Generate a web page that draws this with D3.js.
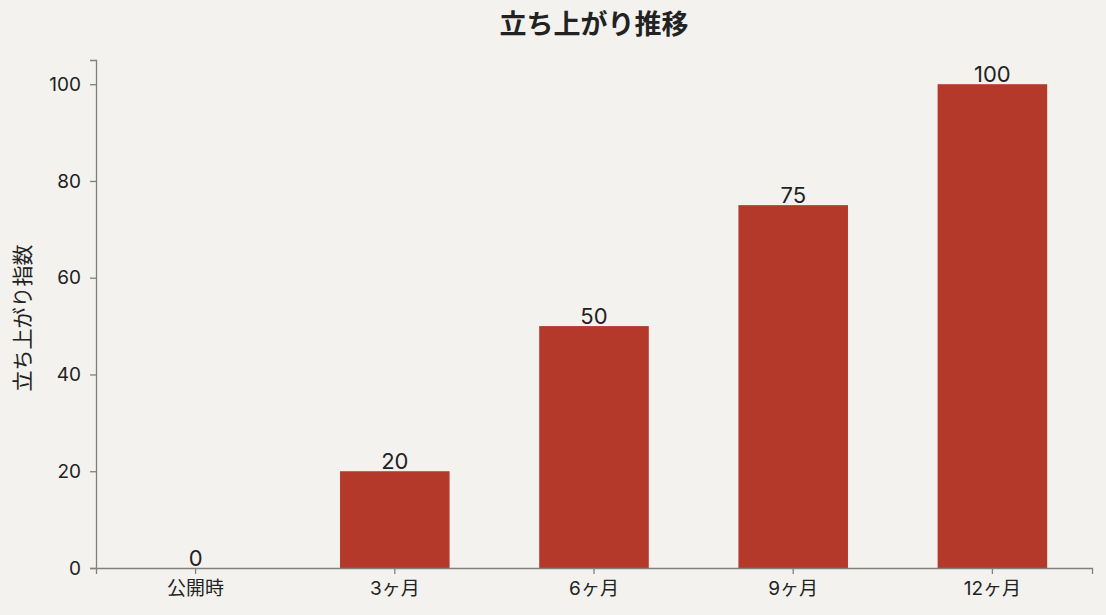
<!DOCTYPE html>
<html lang="ja">
<head>
<meta charset="UTF-8">
<script src="https://d3js.org/d3.v7.min.js"></script>
<style>
  body { margin: 0; background: #f3f2ee; }
  svg { display: block; font-family: "Inter", "Noto Sans CJK JP", sans-serif; }
  .axis path, .axis line { stroke: #808080; stroke-width: 1.3; }
  .axis text { fill: #222; }
</style>
</head>
<body>
<svg width="1106" height="615"></svg>
<script>
  const categories = ["公開時", "3ヶ月", "6ヶ月", "9ヶ月", "12ヶ月"]
  const values = [0, 20, 50, 75, 100]
  const yTicks = [0, 20, 40, 60, 80, 100]

  const svg = d3.select("svg")
  const margin = { top: 60, right: 14, bottom: 47, left: 96 }
  const W = 1106, H = 615
  const fontFam = '"Inter", "Noto Sans CJK JP", sans-serif'

  const x = d3.scaleBand().domain(categories)
    .range([margin.left, W - margin.right])
    .paddingInner(0.45).paddingOuter(0.225)
  const y = d3.scaleLinear().domain([0, 105]).range([H - margin.bottom, margin.top])

  // bars
  svg.selectAll("rect.bar").data(values).enter().append("rect")
    .attr("class", "bar")
    .attr("x", (d, i) => x(categories[i]))
    .attr("width", x.bandwidth())
    .attr("y", d => y(d))
    .attr("height", d => y(0) - y(d))
    .attr("fill", "#b5392b")

  // value labels
  svg.selectAll("text.val").data(values).enter().append("text")
    .attr("class", "val")
    .attr("x", (d, i) => x(categories[i]) + x.bandwidth() / 2)
    .attr("y", d => y(d) - 2)
    .attr("text-anchor", "middle")
    .attr("font-size", 22)
    .attr("fill", "#222")
    .text(d => d)

  // axes
  const gx = svg.append("g").attr("class", "axis")
    .attr("transform", `translate(0,${y(0)})`)
    .call(d3.axisBottom(x).tickSizeOuter(0).tickSize(6).tickPadding(8))
    .attr("font-family", fontFam).attr("font-size", 19)
  gx.selectAll(".tick line").attr("stroke", "#444")

  const gy = svg.append("g").attr("class", "axis")
    .attr("transform", `translate(${margin.left},0)`)
    .call(d3.axisLeft(y).tickValues(yTicks).tickSizeOuter(0).tickSize(6).tickPadding(9))
    .attr("font-family", fontFam).attr("font-size", 19)
  gy.selectAll(".tick line").attr("stroke", "#444")

  // title
  svg.append("text")
    .attr("x", 594).attr("y", 34)
    .attr("text-anchor", "middle")
    .attr("font-size", 27).attr("font-weight", "bold").attr("fill", "#222")
    .text("立ち上がり推移")

  // y label
  svg.append("text")
    .attr("transform", `translate(30,318) rotate(-90)`)
    .attr("text-anchor", "middle")
    .attr("font-size", 21).attr("fill", "#222")
    .text("立ち上がり指数")
</script>
</body>
</html>
